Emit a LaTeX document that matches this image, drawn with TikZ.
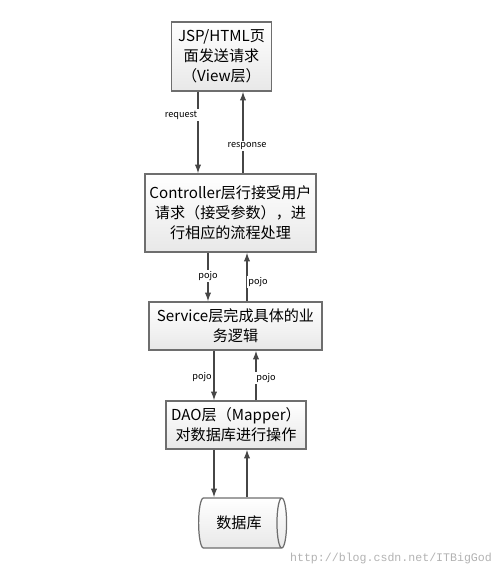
\documentclass[tikz,border=0pt]{standalone}
\usepackage{fontspec}
\setmainfont{Noto Sans CJK SC}
\newfontfamily\wmfont{Liberation Mono}
\usetikzlibrary{shapes.geometric,arrows.meta}
\definecolor{bordgris}{RGB}{110,110,110}
\definecolor{flechegris}{RGB}{70,70,70}
\tikzstyle{couche}=[draw=bordgris, line width=0.7pt, top color=white, bottom color=black!9, align=center, inner sep=1pt, font=\fontsize{8.6}{11.3}\selectfont]
\tikzstyle{fleche}=[flechegris, line width=0.7pt, -{Latex[length=5pt,width=3.6pt]}]
\tikzstyle{etiq}=[fill=white, inner sep=1pt, font=\fontsize{5.2}{6}\selectfont]

\begin{document}
\begin{tikzpicture}[x=0.02cm,y=-0.02cm]

\useasboundingbox (0,0) rectangle (500,572);

% les couches
\node[couche, minimum width=2cm, minimum height=1.38cm] (vue) at (221.5,56.5) {JSP/HTML页\\面发送请求\\（View层）};
\node[couche, minimum width=3.42cm, minimum height=1.56cm] (ctrl) at (230.5,213) {Controller层行接受用户\\请求（接受参数），进\\行相应的流程处理};
\node[couche, minimum width=3.46cm, minimum height=0.96cm] (serv) at (235.5,326) {Service层完成具体的业\\务逻辑};
\node[couche, minimum width=2.8cm, minimum height=0.96cm] (dao) at (236,425) {DAO层（Mapper）\\对数据库进行操作};
\node[couche, cylinder, shape aspect=0.55, minimum height=1.76cm, minimum width=1cm] (bd) at (239,523) {数据库};

% positions des fleches
\coordinate (xa) at (198,0);
\coordinate (xb) at (243,0);
\coordinate (xc) at (208,0);
\coordinate (xd) at (247,0);
\coordinate (xe) at (214,0);
\coordinate (xf) at (256,0);
\coordinate (xg) at (214,0);
\coordinate (xh) at (247,0);

\draw[fleche] (vue.south -| xa) -- (ctrl.north -| xa);
\draw[fleche] (ctrl.north -| xb) -- (vue.south -| xb);
\draw[fleche] (ctrl.south -| xc) -- (serv.north -| xc);
\draw[fleche] (serv.north -| xd) -- (ctrl.south -| xd);
\draw[fleche] (serv.south -| xe) -- (dao.north -| xe);
\draw[fleche] (dao.north -| xf) -- (serv.south -| xf);
\draw[fleche] (dao.south -| xg) -- (bd.north -| xg);
\draw[fleche] (bd.north -| xh) -- (dao.south -| xh);

\node[etiq] (lreq) at (181,115) {request};
\node[etiq] (lrep) at (247,146) {response};
\node[etiq] (lp1) at (208,276) {pojo};
\node[etiq] (lp2) at (258,282) {pojo};
\node[etiq] (lp3) at (202,377) {pojo};
\node[etiq] (lp4) at (266,378) {pojo};

\node[text=black!30, font=\wmfont\fontsize{6.6}{8}\selectfont] (wm) at (391,558) {http://blog.csdn.net/ITBigGod};

\end{tikzpicture}
\end{document}
